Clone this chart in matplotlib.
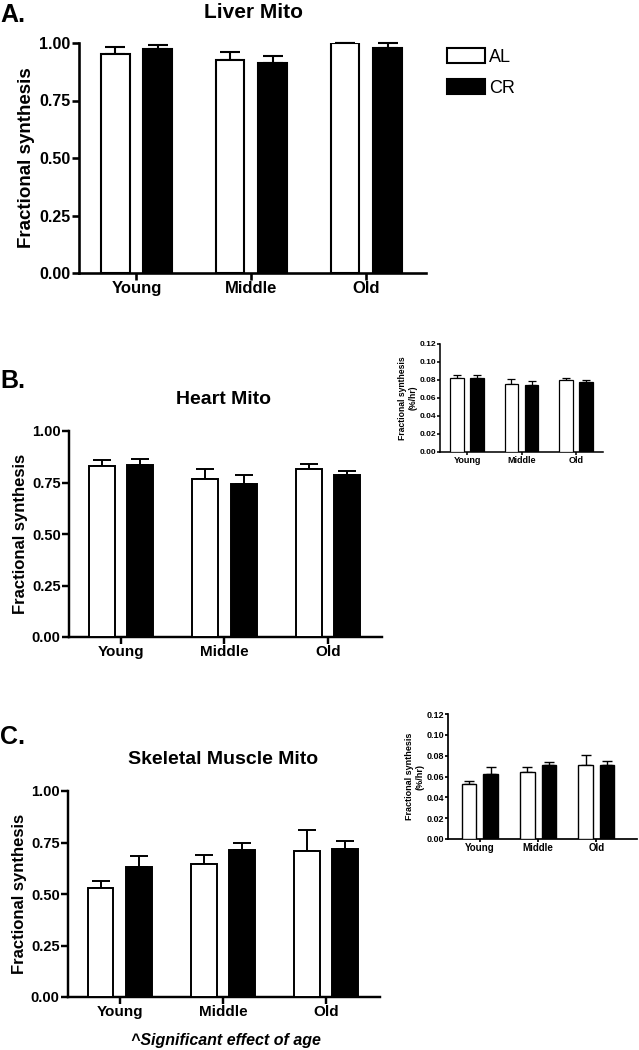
import numpy as np
import matplotlib
matplotlib.use('Agg')
import matplotlib.pyplot as plt
from matplotlib.patches import Patch

plt.rcParams['font.family'] = ['Liberation Sans', 'DejaVu Sans']

groups = ['Young', 'Middle', 'Old']

# Panel A - liver
liver_al = [0.953, 0.927, 1.000]
liver_al_err = [0.028, 0.036, 0.0]
liver_cr = [0.974, 0.915, 0.978]
liver_cr_err = [0.019, 0.030, 0.021]

# Panel B - heart
heart_al = [0.828, 0.767, 0.817]
heart_al_err = [0.033, 0.047, 0.021]
heart_cr = [0.837, 0.744, 0.786]
heart_cr_err = [0.027, 0.044, 0.021]

# Panel B inset (%/hr)
heart_hr_al = [0.0822, 0.0760, 0.0804]
heart_hr_al_err = [0.0034, 0.0050, 0.0022]
heart_hr_cr = [0.0825, 0.0740, 0.0778]
heart_hr_cr_err = [0.0034, 0.0045, 0.0022]

# Panel C - skeletal muscle
muscle_al = [0.531, 0.644, 0.709]
muscle_al_err = [0.030, 0.045, 0.102]
muscle_cr = [0.631, 0.715, 0.720]
muscle_cr_err = [0.055, 0.031, 0.037]

# Panel C inset (%/hr)
muscle_hr_al = [0.0531, 0.0643, 0.0707]
muscle_hr_al_err = [0.0029, 0.0045, 0.0096]
muscle_hr_cr = [0.0627, 0.0707, 0.0714]
muscle_hr_cr_err = [0.0061, 0.0035, 0.0038]

W, H = 639, 1050
fig = plt.figure(figsize=(W / 100, H / 100), dpi=100)


def px_axes(left, top, right, bottom):
    return fig.add_axes([left / W, 1 - bottom / H, (right - left) / W, (bottom - top) / H])


def bar_panel(ax, al, al_err, cr, cr_err, ymax, yticks, tick_fs, lab_fs, ylabel, ylab_fs,
              lw, cap, big=True):
    x = np.arange(len(groups))
    off, w = 0.185, 0.25
    ax.bar(x - off, al, w, color='white', edgecolor='black', linewidth=lw, zorder=3)
    ax.bar(x + off, cr, w, color='black', edgecolor='black', linewidth=lw, zorder=3)
    ax.errorbar(x - off, al, yerr=[np.zeros(3), al_err], fmt='none', ecolor='black',
                elinewidth=lw, capsize=cap, capthick=lw, zorder=2, clip_on=False)
    ax.errorbar(x + off, cr, yerr=[np.zeros(3), cr_err], fmt='none', ecolor='black',
                elinewidth=lw, capsize=cap, capthick=lw, zorder=2, clip_on=False)
    ax.set_ylim(0, ymax)
    ax.set_yticks(yticks)
    ax.set_yticklabels([f'{t:.2f}' for t in yticks], fontsize=tick_fs, fontweight='bold')
    ax.set_xticks(x)
    ax.set_xticklabels(groups, fontsize=lab_fs, fontweight='bold')
    for s in ['top', 'right']:
        ax.spines[s].set_visible(False)
    for s in ['left', 'bottom']:
        ax.spines[s].set_linewidth(lw * 1.25)
    tl = 5 if big else 2.5
    ax.tick_params(axis='both', length=tl, width=lw * 1.25, pad=1 if big else 0.5)
    ax.set_ylabel(ylabel, fontsize=ylab_fs, fontweight='bold', labelpad=3 if big else 1)


# Panel A
axA = px_axes(79, 43, 426, 273)
bar_panel(axA, liver_al, liver_al_err, liver_cr, liver_cr_err, 1.0,
          [0, 0.25, 0.5, 0.75, 1.0], 11.5, 12, 'Fractional synthesis', 13.5, 1.5, 7.5)
axA.set_xlim(-0.5, 2.52)
fig.text(253 / W, 1 - 12 / H, 'Liver Mito', ha='center', va='center', fontsize=15, fontweight='bold')
fig.text(0.0, 1 - 15 / H, 'A.', ha='left', va='center', fontsize=18, fontweight='bold')

handles = [Patch(facecolor='white', edgecolor='black', linewidth=1.5, label='AL'),
           Patch(facecolor='black', edgecolor='black', linewidth=1.5, label='CR')]
fig.legend(handles=handles, loc='upper left', bbox_to_anchor=(447 / W, 1 - 48 / H),
           frameon=False, fontsize=13, handlelength=2.1, handleheight=0.9,
           handletextpad=0.25, labelspacing=0.75, borderpad=0, borderaxespad=0)

# Panel B
axB = px_axes(69, 431, 382, 637)
bar_panel(axB, heart_al, heart_al_err, heart_cr, heart_cr_err, 1.0,
          [0, 0.25, 0.5, 0.75, 1.0], 10.5, 11, 'Fractional synthesis', 12, 1.4, 6.5)
axB.set_xlim(-0.5, 2.52)
fig.text(224 / W, 1 - 400 / H, 'Heart Mito', ha='center', va='center', fontsize=14, fontweight='bold')
fig.text(0.0, 1 - 381 / H, 'B.', ha='left', va='center', fontsize=18, fontweight='bold')

# Panel B inset
axBi = px_axes(440, 344, 603, 452)
bar_panel(axBi, heart_hr_al, heart_hr_al_err, heart_hr_cr, heart_hr_cr_err, 0.12,
          [0, 0.02, 0.04, 0.06, 0.08, 0.10, 0.12], 6, 6.5, 'Fractional synthesis\n(%/hr)', 6.2,
          0.9, 3.2, big=False)
axBi.set_xlim(-0.5, 2.5)

# Panel C
axC = px_axes(68, 791, 380, 997)
bar_panel(axC, muscle_al, muscle_al_err, muscle_cr, muscle_cr_err, 1.0,
          [0, 0.25, 0.5, 0.75, 1.0], 10.5, 11, 'Fractional synthesis', 12, 1.4, 6.5)
axC.set_xlim(-0.5, 2.52)
fig.text(223 / W, 1 - 759 / H, 'Skeletal Muscle Mito', ha='center', va='center', fontsize=14, fontweight='bold')
fig.text(0.0, 1 - 737 / H, 'C.', ha='left', va='center', fontsize=18, fontweight='bold')
fig.text(226 / W, 1 - 1040 / H, '^Significant effect of age', ha='center', va='center',
         fontsize=11.5, fontweight='bold', style='italic')

# Panel C inset
axCi = px_axes(448, 714, 637, 839)
bar_panel(axCi, muscle_hr_al, muscle_hr_al_err, muscle_hr_cr, muscle_hr_cr_err, 0.12,
          [0, 0.02, 0.04, 0.06, 0.08, 0.10, 0.12], 6.5, 7, 'Fractional synthesis\n(%/hr)', 6.5,
          1.0, 3.5, big=False)
axCi.set_xlim(-0.55, 2.7)

fig.savefig('out.png', dpi=100)
